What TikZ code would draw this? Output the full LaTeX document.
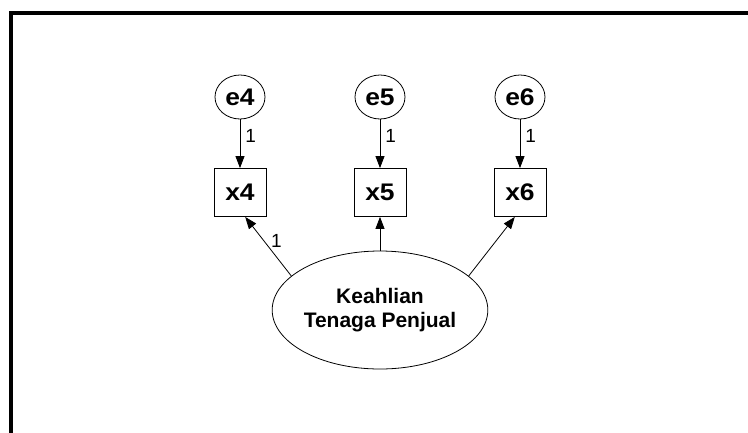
\documentclass[tikz,border=0pt]{standalone}
\usepackage{fontspec}
\setmainfont{Liberation Sans}
\newfontfamily\widesans{Liberation Sans}[FakeStretch=1.1]
\usetikzlibrary{shapes.geometric,arrows.meta}
\tikzset{
  errnode/.style={draw, ellipse, line width=0.8pt, minimum width=50pt, minimum height=44pt, inner sep=0pt,
    font=\widesans\bfseries\fontsize{24}{26}\selectfont},
  obsnode/.style={draw, rectangle, line width=0.8pt, minimum width=52pt, minimum height=48pt, inner sep=0pt,
    font=\widesans\bfseries\fontsize{24}{26}\selectfont},
  latnode/.style={draw, ellipse, line width=0.8pt, minimum width=200pt, minimum height=118pt, inner sep=0pt,
    align=center, font=\bfseries\fontsize{21}{23.5}\selectfont},
  arr/.style={line width=0.8pt, -{Triangle[length=12pt,width=9pt]}},
  lbl/.style={font=\fontsize{19}{21}\selectfont, inner sep=1pt},
  frameline/.style={line width=4pt}
}
\begin{document}
\begin{tikzpicture}[x=1pt,y=-1pt]
\useasboundingbox (0,0) rectangle (748,432);
\clip (0,0) rectangle (748,432);
\draw[frameline] (11,450) -- (11,13) -- (760,13);

\node[errnode] (e4) at (240,97) {e4};
\node[errnode] (e5) at (380,97) {e5};
\node[errnode] (e6) at (520,97) {e6};

\node[obsnode] (x4) at (240,192.5) {x4};
\node[obsnode] (x5) at (380,192.5) {x5};
\node[obsnode] (x6) at (520,192.5) {x6};

\node[latnode] (lat) at (380,310) {Keahlian\\Tenaga Penjual};

\draw[arr] (e4) -- node[lbl, pos=0.35, anchor=west, xshift=4pt] {1} (x4);
\draw[arr] (e5) -- node[lbl, pos=0.35, anchor=west, xshift=4pt] {1} (x5);
\draw[arr] (e6) -- node[lbl, pos=0.35, anchor=west, xshift=4pt] {1} (x6);

\draw[arr] (lat.159) -- node[lbl, pos=0.6, anchor=west, xshift=6pt] {1} (x4.-78);
\draw[arr] (lat.north) -- (x5.south);
\draw[arr] (lat.21) -- (x6.-102);
\end{tikzpicture}
\end{document}
